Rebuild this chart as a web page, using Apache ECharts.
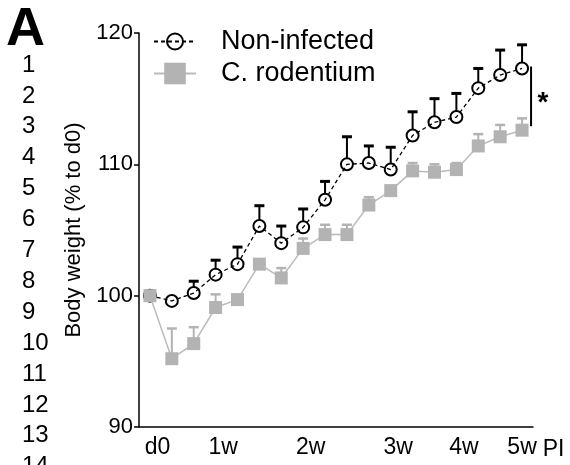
<!DOCTYPE html>
<html><head><meta charset="utf-8">
<script src="https://cdn.jsdelivr.net/npm/echarts@6/dist/echarts.min.js"></script>
<style>html,body{margin:0;padding:0;background:#fff}#c{width:570px;height:465px}</style>
</head><body><div id="c"></div>
<script>
const tickLabels = ['d0','','','1w','','','','2w','','','','3w','','','4w','','','5w'];
const categories = tickLabels.map((t, i) => String(i));
const nonInfMean = [100.0,99.6,100.2,101.6,102.4,105.3,104.0,105.2,107.3,110.0,110.1,109.6,112.2,113.2,113.6,115.8,116.8,117.3];
const nonInfErr  = [0.0,0.5,0.9,1.1,1.3,1.55,1.3,1.4,1.4,2.1,1.3,1.7,1.8,1.8,1.8,1.5,1.9,1.8];
const citroMean  = [100.0,95.2,96.35,99.1,99.7,102.4,101.35,103.6,104.65,104.65,106.9,108.0,109.5,109.4,109.6,111.4,112.1,112.6];
const citroErr   = [0.0,2.3,1.25,1.0,0.3,0.3,0.75,0.75,0.75,0.75,0.6,0.3,0.6,0.6,0.5,0.9,0.9,0.9];
const yTicks = [90, 100, 110, 120];
const seriesNames = ['Non-infected', 'C. rodentium'];
const lineNumbers = ['1','2','3','4','5','6','7','8','9','10','11','12','13','14'];

const FONT = '"Liberation Sans", Arial, Helvetica, sans-serif';
const chart = echarts.init(document.getElementById('c'), null, {renderer: 'canvas'});

function errRender(color, capW, lineW, capLW, startOffset) {
  return function (params, api) {
    const i = api.value(0), m = api.value(1), e = api.value(2);
    const c = api.coord([i, m]);
    const t = api.coord([i, m + e]);
    const y0 = c[1] - startOffset;
    if (t[1] >= y0 - 1) return {type: 'group', children: []};
    return {type: 'group', children: [
      {type: 'line', shape: {x1: c[0], y1: y0, x2: c[0], y2: t[1]}, style: {stroke: color, lineWidth: lineW}},
      {type: 'line', shape: {x1: c[0] - capW / 2, y1: t[1], x2: c[0] + capW / 2, y2: t[1]}, style: {stroke: color, lineWidth: capLW}}
    ]};
  };
}

const graphics = [
  {type: 'text', x: 6, y: 3, style: {text: 'A', fontSize: 54, fontWeight: 'bold', fontFamily: FONT, fill: '#000'}}
];
lineNumbers.forEach((n, k) => {
  graphics.push({type: 'text', x: 22, y: 65 + k * 30.9,
    style: {text: n, fontSize: 24, fontFamily: FONT, fill: '#000', verticalAlign: 'middle'}});
});

const isTick = (i) => tickLabels[i] !== '';
const lastIdx = tickLabels.length - 1;

chart.setOption({
  animation: false,
  backgroundColor: '#fff',
  grid: {left: 139, right: 37, top: 33, bottom: 38},
  graphic: graphics,
  legend: [
    {data: [seriesNames[0]], left: 153, top: 28, itemWidth: 42, itemHeight: 20, padding: 0,
     selectedMode: false, textStyle: {fontSize: 27, fontFamily: FONT, color: '#000', padding: [0, 0, 0, 20]}},
    {data: [seriesNames[1]], left: 153, top: 60, itemWidth: 42, itemHeight: 27, padding: 0,
     selectedMode: false, textStyle: {fontSize: 27, fontFamily: FONT, color: '#000', padding: [0, 0, 0, 20]}}
  ],
  xAxis: {
    type: 'category', data: categories, boundaryGap: true,
    axisLine: {lineStyle: {color: '#000', width: 1.5}},
    axisTick: {alignWithLabel: true, interval: isTick, length: 5, lineStyle: {color: '#000', width: 1.5}},
    axisLabel: {
      interval: isTick,
      formatter: (v, i) => i === lastIdx ? '{e|' + tickLabels[i] + '}' : '{s|' + tickLabels[i] + '}',
      color: '#000', fontSize: 23, fontFamily: FONT, margin: 9,
      rich: {
        s: {fontSize: 23, fontFamily: FONT, color: '#000', padding: [0, 0, 0, 15]},
        e: {fontSize: 23, fontFamily: FONT, color: '#000'}
      }
    },
    name: 'PI', nameLocation: 'end', nameGap: 9,
    nameTextStyle: {color: '#000', fontSize: 23, fontFamily: FONT, verticalAlign: 'top', padding: [11, 0, 0, 0]}
  },
  yAxis: {
    type: 'value', min: yTicks[0], max: yTicks[yTicks.length - 1], interval: yTicks[1] - yTicks[0],
    axisLine: {show: true, lineStyle: {color: '#000', width: 1.5}},
    axisTick: {show: true, length: 5, lineStyle: {color: '#000', width: 1.5}},
    splitLine: {show: false},
    axisLabel: {color: '#000', fontSize: 22, fontFamily: FONT, margin: 6},
    name: 'Body weight (% to d0)', nameLocation: 'middle', nameGap: 53,
    nameTextStyle: {color: '#000', fontSize: 22, fontFamily: FONT}
  },
  series: [
    {type: 'custom', name: 'errN', z: 2, silent: true,
     renderItem: errRender('#000', 10, 2, 3, 6),
     data: nonInfMean.map((m, i) => [i, m, nonInfErr[i]])},
    {type: 'line', name: seriesNames[0], data: nonInfMean, z: 3,
     symbol: 'circle', symbolSize: 12,
     lineStyle: {color: '#000', width: 1.3, type: [4, 3]},
     itemStyle: {color: 'rgba(255,255,255,0)', borderColor: '#000', borderWidth: 2}, emphasis: {disabled: true}},
    {type: 'custom', name: 'errC', z: 4, silent: true,
     renderItem: errRender('#b3b3b3', 10, 2, 2.5, 0),
     data: citroMean.map((m, i) => [i, m, citroErr[i]])},
    {type: 'line', name: seriesNames[1], data: citroMean, z: 5,
     symbol: 'rect', symbolSize: 13,
     lineStyle: {color: '#bbbbbb', width: 1.5},
     itemStyle: {color: '#b3b3b3'}, emphasis: {disabled: true}},
    {type: 'custom', name: 'sig', z: 6, silent: true,
     data: [[nonInfMean.length - 1, nonInfMean[nonInfMean.length - 1], citroMean[citroMean.length - 1]]],
     renderItem: function (params, api) {
       const i = api.value(0);
       const a = api.coord([i, api.value(1)]);
       const b = api.coord([i, api.value(2)]);
       const x = a[0] + 9;
       return {type: 'group', children: [
         {type: 'line', shape: {x1: x, y1: a[1] - 2, x2: x, y2: b[1] - 4}, style: {stroke: '#000', lineWidth: 2}},
         {type: 'text', x: x + 12, y: (a[1] + b[1]) / 2 + 4,
          style: {text: '*', fontSize: 28, fontWeight: 'bold', fontFamily: FONT, fill: '#000', align: 'center', verticalAlign: 'middle'}}
       ]};
     }}
  ]
});
</script></body></html>
